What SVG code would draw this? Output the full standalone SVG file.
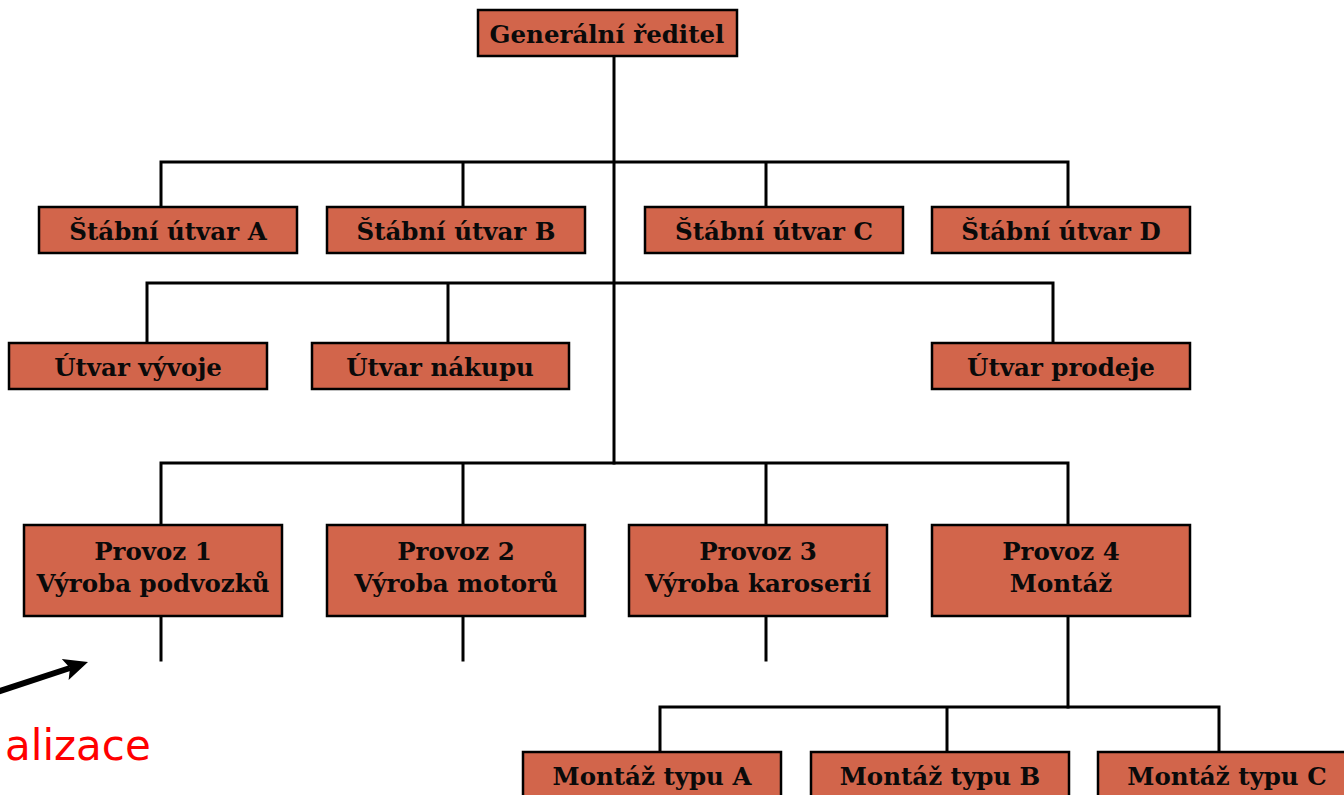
<svg xmlns="http://www.w3.org/2000/svg" width="1344" height="795" viewBox="0 0 1344 795">
  <style>
    .box { fill: #D2654B; stroke: #000; stroke-width: 2.5; }
    .lbl { font-family: "DejaVu Serif", "Liberation Serif", serif; font-weight: bold; font-size: 24.5px; fill: #0a0a0a; text-anchor: middle; }
    .conn { fill: none; stroke: #000; stroke-width: 3; stroke-linecap: square; }
    .note { font-family: "DejaVu Sans", "Liberation Sans", sans-serif; font-size: 42px; fill: #FF0000; }
  </style>
  <rect width="1344" height="795" fill="#fff"/>

  <!-- connectors -->
  <g id="connectors" class="conn">
    <path d="M614,56 V463"/>
    <path d="M161,207 V162 H1068 V207 M463,162 V207 M766,162 V207"/>
    <path d="M147,343 V283 H1053 V343 M448,283 V343"/>
    <path d="M161,525 V463 H1068 V525 M463,463 V525 M766,463 V525"/>
    <path d="M161,616 V660 M463,616 V660 M766,616 V660"/>
    <path d="M1068,616 V707"/>
    <path d="M660,752 V707 H1219 V752 M947,707 V752"/>
  </g>

  <!-- top -->
  <g id="n-gr">
    <rect class="box" x="478" y="10" width="259" height="46"/>
    <text class="lbl" x="607" y="43">Generální ředitel</text>
  </g>

  <!-- staff units -->
  <g id="n-sa">
    <rect class="box" x="39" y="207" width="258" height="46"/>
    <text class="lbl" x="168" y="240">Štábní útvar A</text>
  </g>
  <g id="n-sb">
    <rect class="box" x="327" y="207" width="258" height="46"/>
    <text class="lbl" x="456" y="240">Štábní útvar B</text>
  </g>
  <g id="n-sc">
    <rect class="box" x="645" y="207" width="258" height="46"/>
    <text class="lbl" x="774" y="240">Štábní útvar C</text>
  </g>
  <g id="n-sd">
    <rect class="box" x="932" y="207" width="258" height="46"/>
    <text class="lbl" x="1061" y="240">Štábní útvar D</text>
  </g>

  <!-- departments -->
  <g id="n-vyv">
    <rect class="box" x="9" y="343" width="258" height="46"/>
    <text class="lbl" x="138" y="376">Útvar vývoje</text>
  </g>
  <g id="n-nak">
    <rect class="box" x="312" y="343" width="257" height="46"/>
    <text class="lbl" x="440" y="376">Útvar nákupu</text>
  </g>
  <g id="n-pro">
    <rect class="box" x="932" y="343" width="258" height="46"/>
    <text class="lbl" x="1061" y="376">Útvar prodeje</text>
  </g>

  <!-- plants -->
  <g id="n-p1">
    <rect class="box" x="24" y="525" width="258" height="91"/>
    <text class="lbl" x="153" y="560">Provoz 1</text>
    <text class="lbl" x="153" y="592">Výroba podvozků</text>
  </g>
  <g id="n-p2">
    <rect class="box" x="327" y="525" width="258" height="91"/>
    <text class="lbl" x="456" y="560">Provoz 2</text>
    <text class="lbl" x="456" y="592">Výroba motorů</text>
  </g>
  <g id="n-p3">
    <rect class="box" x="629" y="525" width="258" height="91"/>
    <text class="lbl" x="758" y="560">Provoz 3</text>
    <text class="lbl" x="758" y="592">Výroba karoserií</text>
  </g>
  <g id="n-p4">
    <rect class="box" x="932" y="525" width="258" height="91"/>
    <text class="lbl" x="1061" y="560">Provoz 4</text>
    <text class="lbl" x="1061" y="592">Montáž</text>
  </g>

  <!-- assembly types -->
  <g id="n-ma">
    <rect class="box" x="523" y="752" width="258" height="60"/>
    <text class="lbl" x="652" y="785">Montáž typu A</text>
  </g>
  <g id="n-mb">
    <rect class="box" x="811" y="752" width="258" height="60"/>
    <text class="lbl" x="940" y="785">Montáž typu B</text>
  </g>
  <g id="n-mc">
    <rect class="box" x="1098" y="752" width="258" height="60"/>
    <text class="lbl" x="1227" y="785">Montáž typu C</text>
  </g>

  <!-- annotation: thick arrow and red caption -->
  <g id="annotation">
    <line x1="-6" y1="693" x2="70" y2="668" stroke="#000" stroke-width="6"/>
    <polygon points="88,662 61.8,659.1 70,667.9 68.6,679.9" fill="#000"/>
    <text class="note" x="5" y="760">alizace</text>
  </g>
</svg>
